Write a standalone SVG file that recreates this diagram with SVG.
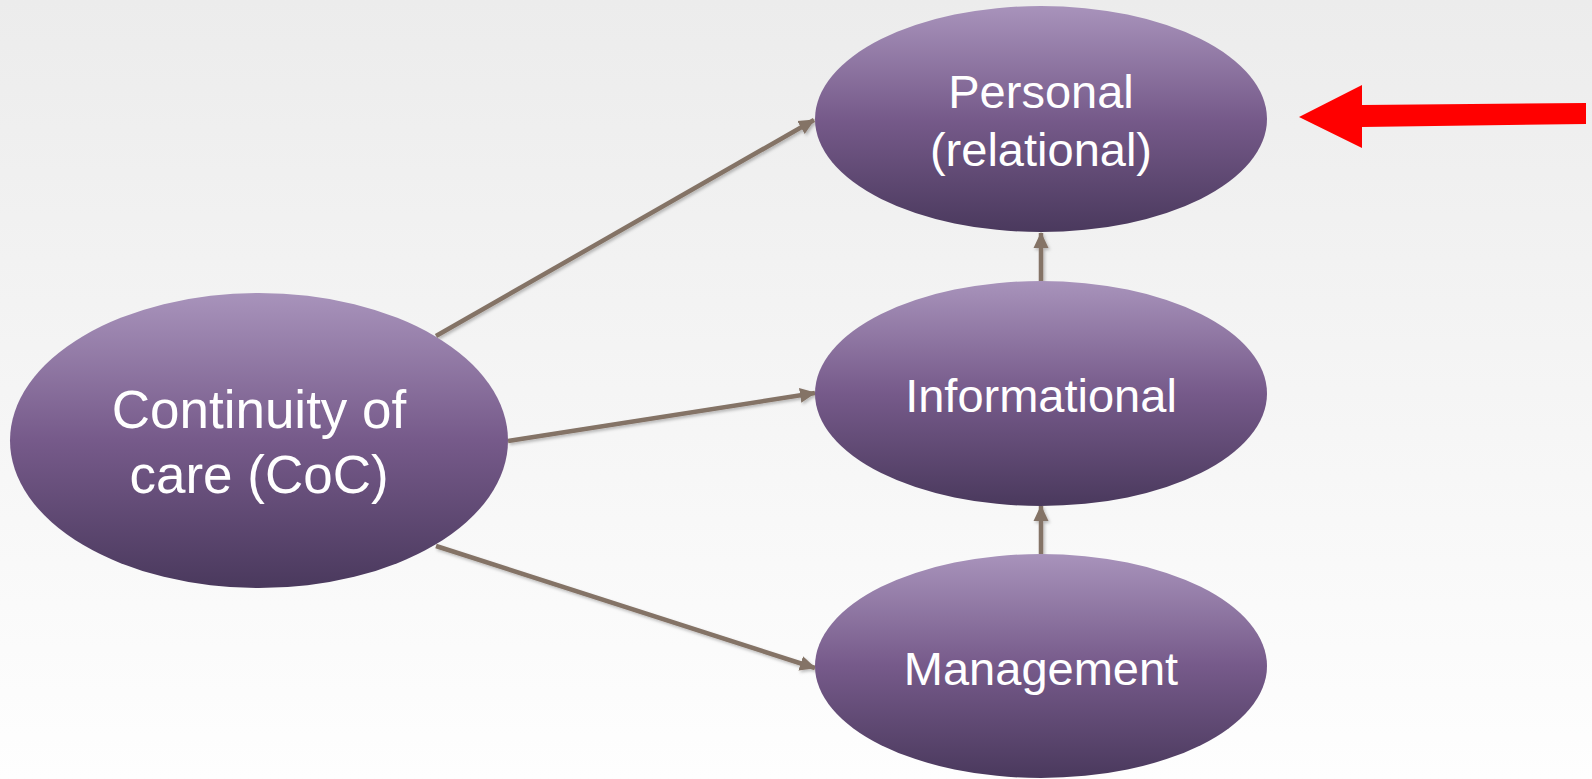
<svg xmlns="http://www.w3.org/2000/svg" width="1592" height="779" viewBox="0 0 1592 779">
  <defs>
    <linearGradient id="bg" x1="0" y1="0" x2="0" y2="1">
      <stop offset="0" stop-color="#ececec"/>
      <stop offset="1" stop-color="#fefefe"/>
    </linearGradient>
    <linearGradient id="oval" x1="0" y1="0" x2="0" y2="1">
      <stop offset="0" stop-color="#a893bb"/>
      <stop offset="0.5" stop-color="#765a8a"/>
      <stop offset="1" stop-color="#4a395d"/>
    </linearGradient>
    <filter id="shadow" x="-10%" y="-10%" width="120%" height="130%">
      <feDropShadow dx="1.5" dy="2" stdDeviation="1.5" flood-color="#000" flood-opacity="0.25"/>
    </filter>
    <marker id="headL" markerWidth="16" markerHeight="16" refX="15" refY="8" orient="auto" markerUnits="userSpaceOnUse" viewBox="0 0 16 16">
      <path d="M0,0.5 L16,8 L0,15.5 Z" fill="#847366"/>
    </marker>
  </defs>
  <style>
    .node ellipse { fill: url(#oval); }
    .node text { fill: #ffffff; font-family: "Liberation Sans", Arial, sans-serif; text-anchor: middle; }
    .link { stroke: #847366; stroke-width: 4.5; fill: none; }
  </style>

  <rect x="0" y="0" width="1592" height="779" fill="url(#bg)"/>

  <!-- connectors -->
  <g id="connectors" filter="url(#shadow)">
    <line class="link" x1="436" y1="336" x2="814" y2="120" marker-end="url(#headL)"/>
    <line class="link" x1="508" y1="441" x2="815" y2="393" marker-end="url(#headL)"/>
    <line class="link" x1="436" y1="546" x2="815" y2="668" marker-end="url(#headL)"/>
    <line class="link" x1="1041" y1="281" x2="1041" y2="233" marker-end="url(#headL)"/>
    <line class="link" x1="1041" y1="554" x2="1041" y2="506" marker-end="url(#headL)"/>
  </g>

  <!-- nodes -->
  <g id="node-coc" class="node">
    <ellipse cx="259" cy="440.5" rx="249" ry="147.5"/>
    <text x="259" y="428" font-size="53">Continuity of</text>
    <text x="259" y="493" font-size="53">care (CoC)</text>
  </g>
  <g id="node-personal" class="node">
    <ellipse cx="1041" cy="119" rx="226" ry="113"/>
    <text x="1041" y="108" font-size="47">Personal</text>
    <text x="1041" y="166" font-size="47">(relational)</text>
  </g>
  <g id="node-informational" class="node">
    <ellipse cx="1041" cy="393.5" rx="226" ry="112.5"/>
    <text x="1041" y="412" font-size="47">Informational</text>
  </g>
  <g id="node-management" class="node">
    <ellipse cx="1041" cy="666" rx="226" ry="112"/>
    <text x="1041" y="685" font-size="47">Management</text>
  </g>

  <!-- red pointer -->
  <polygon id="pointer" points="1299,117 1362,85 1362,105 1586,103 1586,124 1362,127 1362,148" fill="#ff0000"/>
</svg>
